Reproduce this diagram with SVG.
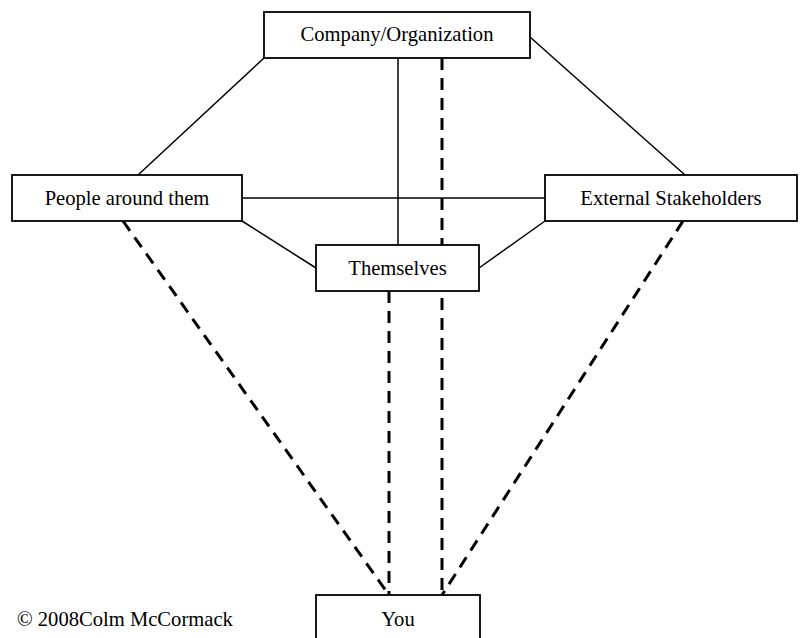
<svg xmlns="http://www.w3.org/2000/svg" width="802" height="638" viewBox="0 0 802 638">
<style>
.box{fill:#fff;stroke:#000;stroke-width:1.8}
.ln{stroke:#000;stroke-width:1.5;fill:none}
.dash{stroke:#000;stroke-width:3;fill:none;stroke-dasharray:12 8}
.t{font-family:'Liberation Serif','Times New Roman',serif;font-size:20.6px;fill:#000}
.c{text-anchor:middle}
</style>
<rect width="802" height="638" fill="#fff"/>
<g id="connectors">
<line class="ln" x1="264" y1="58" x2="138" y2="175"/>
<line class="ln" x1="530" y1="37" x2="685" y2="175"/>
<line class="ln" x1="398" y1="58" x2="398" y2="245"/>
<line class="ln" x1="242" y1="198" x2="545" y2="198"/>
<line class="ln" x1="242" y1="221" x2="316" y2="268"/>
<line class="ln" x1="479" y1="268" x2="545" y2="221"/>
<line class="dash" x1="442" y1="58" x2="442" y2="595"/>
<line class="dash" x1="123" y1="221" x2="389" y2="595"/>
<line class="dash" x1="389" y1="291" x2="389" y2="595"/>
<line class="dash" x1="683" y1="221" x2="442" y2="595"/>
</g>
<g id="company">
<rect class="box" x="264" y="12" width="266" height="46"/>
<text class="t c" x="397" y="41">Company/Organization</text>
</g>
<g id="people">
<rect class="box" x="12" y="175" width="230" height="46"/>
<text class="t c" x="127" y="205">People around them</text>
</g>
<g id="external">
<rect class="box" x="545" y="175" width="252" height="46"/>
<text class="t c" x="671" y="205">External Stakeholders</text>
</g>
<g id="themselves">
<rect class="box" x="316" y="245" width="163" height="46"/>
<text class="t c" x="397.5" y="275">Themselves</text>
</g>
<g id="you">
<rect class="box" x="316" y="595" width="164" height="60"/>
<text class="t c" x="398" y="626">You</text>
</g>
<g id="copyright">
<text class="t" x="17" y="626">© 2008Colm McCormack</text>
</g>
</svg>
